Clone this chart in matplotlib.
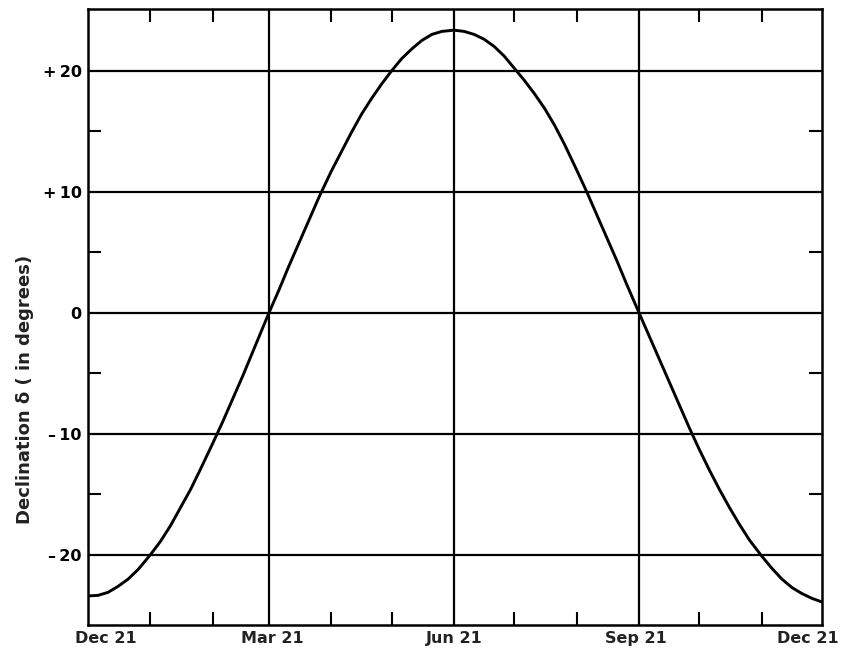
import matplotlib
matplotlib.use("Agg")
import matplotlib.pyplot as plt

# ---- data ----
# days counted from Dec 21, roughly every 5 days
days = [0, 5, 10, 15, 20, 25, 31, 36, 41, 46, 51, 56, 62, 67, 72, 77, 82, 86,
        90, 95, 100, 105, 110, 115, 121, 126, 131, 136, 141, 146, 151, 156,
        161, 166, 171, 176, 182, 187, 192, 197, 202, 207, 212, 217, 222, 227,
        232, 237, 243, 248, 253, 258, 263, 268, 274, 279, 284, 289, 294, 299,
        304, 309, 314, 319, 324, 329, 335, 340, 345, 350, 355, 360, 365]
declination = [-23.4, -23.35, -23.1, -22.6, -22.0, -21.2, -20.0, -18.9, -17.6,
               -16.1, -14.6, -12.9, -10.8, -9.0, -7.1, -5.2, -3.2, -1.6,
               0.0, 1.9, 3.9, 5.8, 7.7, 9.6, 11.7, 13.3, 14.9, 16.4, 17.7,
               18.9, 20.0, 21.0, 21.8, 22.5, 23.0, 23.25, 23.35, 23.25, 23.0,
               22.6, 22.0, 21.2, 20.2, 19.2, 18.1, 16.9, 15.5, 13.9, 11.8,
               10.0, 8.1, 6.2, 4.3, 2.3, 0.0, -1.9, -3.8, -5.7, -7.6, -9.5,
               -11.3, -13.0, -14.6, -16.1, -17.5, -18.8, -20.1, -21.1, -22.0,
               -22.7, -23.2, -23.6, -23.9]

major_x = [0, 90, 182, 274, 365]
major_x_labels = ["Dec 21", "Mar 21", "Jun 21", "Sep 21", "Dec 21"]
minor_x = [31, 62, 121, 151, 212, 243, 304, 335]

major_y = [20, 10, 0, -10, -20]
major_y_labels = ["+\u200920", "+\u200910", "0", "–\u200910", "–\u200920"]
minor_y = [15, 5, -5, -15]

ylabel = "Declination δ ( in degrees)"

# ---- figure ----
fig = plt.figure(figsize=(8.42, 6.55), dpi=100)
ax = fig.add_axes([88/842, 1 - 625/655, (822 - 88)/842, (625 - 9)/655])

ax.plot(days, declination, color="black", lw=2.1, solid_capstyle="round",
        solid_joinstyle="round")

ax.set_xlim(0, 365)
ax.set_ylim(-25.8, 25.1)

for v in major_x[1:-1]:
    ax.axvline(v, color="black", lw=1.6, zorder=1)
for v in major_y:
    ax.axhline(v, color="black", lw=1.6, zorder=1)

for s in ax.spines.values():
    s.set_linewidth(1.8)
    s.set_color("black")

ax.set_xticks(major_x)
ax.set_xticklabels([])
ax.set_xticks(minor_x, minor=True)
ax.set_yticks(major_y)
ax.set_yticklabels(major_y_labels, fontsize=11.5, fontweight="bold",
                   family="DejaVu Sans")
ax.set_yticks(minor_y, minor=True)

ax.tick_params(axis="x", which="major", length=0)
ax.tick_params(axis="x", which="minor", direction="in", length=9.5, width=1.5,
               top=True, bottom=True)
ax.tick_params(axis="y", which="major", length=0, pad=4.5)
ax.tick_params(axis="y", which="minor", direction="in", length=9.5, width=1.5,
               left=True, right=True)

# x labels (first and last shifted as in the original)
offsets = [18, 3, 0, -3, -14]
for v, lab, dx in zip(major_x, major_x_labels, offsets):
    ax.annotate(lab, xy=(v, 0), xycoords=ax.get_xaxis_transform(),
                xytext=(dx, -6), textcoords="offset pixels",
                ha="center", va="top", fontsize=11.5, fontweight="bold",
                family="DejaVu Sans", color="#222222")

fig.text(25/842, 1 - 389/655, ylabel, rotation=90, ha="center", va="center",
         fontsize=13, fontweight="bold", family="DejaVu Sans", color="#222222")

fig.savefig("out.png", dpi=100)
